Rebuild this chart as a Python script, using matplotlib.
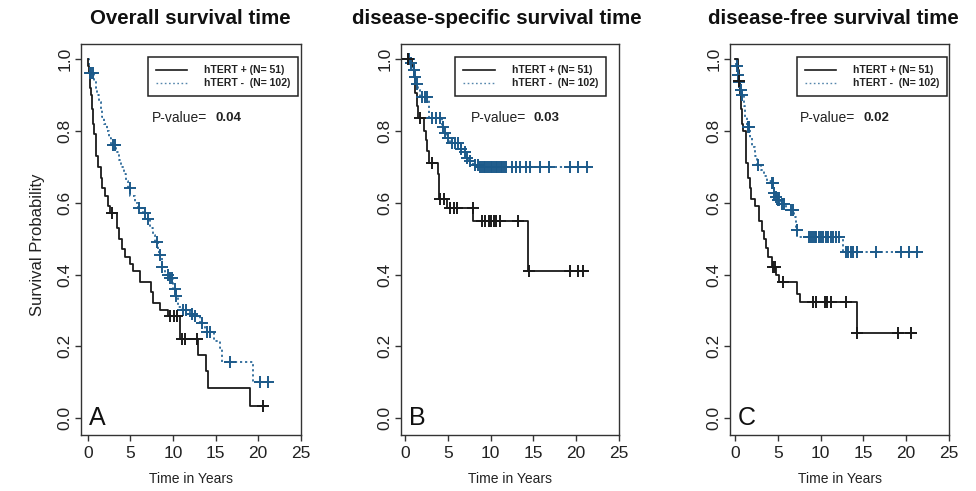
import numpy as np
import matplotlib.pyplot as plt
from matplotlib.lines import Line2D

plt.rcParams['font.family'] = ['Liberation Sans', 'DejaVu Sans']

# ---- data (time in years, survival after each step) ----
titles = ['Overall survival time', 'disease-specific survival time', 'disease-free survival time']
letters = ['A', 'B', 'C']
pvalues = ['0.04', '0.03', '0.02']
legend_labels = ['hTERT + (N= 51)', 'hTERT -  (N= 102)']

# A: overall survival
a_pos_t = [0.05, 0.12, 0.2, 0.28, 0.36, 0.44, 0.52, 0.6, 0.75, 0.9, 1.0, 1.2, 1.5, 1.7, 2.0, 2.3, 2.6,
           3.4, 3.6, 4.0, 4.4, 4.9, 5.3, 6.1, 7.4, 7.7, 8.5, 9.4, 10.8, 12.9, 13.9, 14.1, 19.1]
a_pos_s = [0.98, 0.96, 0.94, 0.92, 0.90, 0.88, 0.86, 0.82, 0.79, 0.76, 0.73, 0.70, 0.67, 0.64, 0.62, 0.59, 0.57,
           0.53, 0.50, 0.47, 0.45, 0.43, 0.41, 0.38, 0.35, 0.32, 0.30, 0.285, 0.22, 0.175, 0.13, 0.085, 0.035]
a_pos_cens = [2.8, 9.7, 10.1, 10.5, 11.1, 11.4, 12.8, 20.6]
a_pos_end = 20.8

a_neg_t = [0.1, 0.2, 0.7, 0.9, 1.1, 1.3, 1.5, 1.7, 1.9, 2.2, 2.5, 2.7, 3.3, 3.6, 3.9, 4.2, 4.5, 4.7, 5.0, 5.5,
           5.9, 6.5, 7.0, 7.3, 7.6, 7.9, 8.2, 8.4, 8.65, 9.1, 9.6, 10.0, 10.3, 10.6, 11.0, 12.0, 12.5, 13.2,
           13.8, 14.8, 15.5, 15.8, 19.4]
a_neg_s = [0.98, 0.96, 0.94, 0.92, 0.90, 0.88, 0.86, 0.84, 0.82, 0.80, 0.78, 0.76, 0.74, 0.72, 0.70, 0.68,
           0.66, 0.64, 0.62, 0.60, 0.585, 0.57, 0.555, 0.53, 0.51, 0.49, 0.47, 0.455, 0.42, 0.40, 0.39, 0.36,
           0.34, 0.31, 0.30, 0.29, 0.285, 0.265, 0.24, 0.215, 0.195, 0.155, 0.10]
a_neg_cens = [0.25, 0.4, 0.55, 2.9, 3.2, 4.9, 6.0, 6.7, 7.1, 8.1, 8.5, 8.7, 9.4, 9.7, 9.9, 10.2, 10.4,
              11.2, 11.5, 12.2, 12.6, 13.4, 14.0, 14.3, 16.7, 20.2, 21.2]
a_neg_end = 21.4

# B: disease-specific survival
b_pos_t = [0.8, 1.0, 1.2, 1.35, 1.5, 2.2, 2.4, 2.6, 2.8, 3.8, 3.95, 4.9, 8.0, 14.4]
b_pos_s = [0.98, 0.95, 0.905, 0.87, 0.835, 0.80, 0.775, 0.745, 0.71, 0.68, 0.61, 0.585, 0.55, 0.41]
b_pos_cens = [0.4, 1.75, 3.2, 4.1, 4.6, 5.3, 5.7, 6.1, 7.9, 9.0, 9.4, 9.8, 10.1, 10.4, 10.7, 11.1,
              13.2, 14.5, 19.3, 20.2, 20.8]
b_pos_end = 21.3

b_neg_t = [0.6, 0.9, 1.1, 1.3, 1.5, 1.8, 2.8, 4.3, 4.6, 4.9, 5.3, 6.5, 6.9, 7.1, 7.4, 7.9, 8.6]
b_neg_s = [0.99, 0.97, 0.95, 0.93, 0.915, 0.895, 0.835, 0.81, 0.795, 0.78, 0.765, 0.75, 0.74, 0.725,
           0.715, 0.705, 0.70]
b_neg_cens = [0.35, 0.5, 0.7, 1.0, 1.2, 1.4, 2.0, 2.3, 2.6, 3.2, 3.6, 4.1, 4.4, 4.7, 5.0, 5.5, 5.8, 6.2,
              6.6, 7.0, 7.2, 7.6, 8.2, 8.5, 8.8, 9.0, 9.2, 9.4, 9.6, 9.8, 10.0, 10.2, 10.4, 10.6, 10.8,
              11.0, 11.2, 11.4, 11.6, 11.8, 12.5, 13.0, 13.5, 14.1, 14.6, 15.8, 16.9, 19.3, 20.2, 21.3]
b_neg_end = 21.8

# C: disease-free survival
c_pos_t = [0.3, 0.5, 0.6, 0.7, 0.8, 0.9, 1.3, 1.5, 1.7, 1.9, 2.3, 2.8, 3.2, 3.4, 3.6, 3.9, 4.3, 4.8,
           5.2, 7.2, 7.6, 14.2]
c_pos_s = [0.97, 0.94, 0.90, 0.86, 0.82, 0.80, 0.71, 0.67, 0.64, 0.61, 0.59, 0.55, 0.52, 0.50, 0.475,
           0.45, 0.42, 0.40, 0.38, 0.345, 0.323, 0.237]
c_pos_cens = [0.5, 4.5, 4.7, 5.6, 9.1, 9.5, 10.5, 10.8, 11.2, 13.0, 14.2, 19.0, 20.6]
c_pos_end = 21.1

c_neg_t = [0.15, 0.3, 0.45, 0.6, 0.8, 1.0, 1.2, 1.4, 1.7, 2.0, 2.3, 2.6, 3.0, 3.4, 3.8, 4.2, 4.45, 4.6,
           4.8, 5.0, 5.4, 6.0, 6.9, 7.1, 7.3, 12.6]
c_neg_s = [0.98, 0.955, 0.935, 0.915, 0.90, 0.87, 0.84, 0.81, 0.78, 0.755, 0.73, 0.705, 0.69, 0.675,
           0.66, 0.655, 0.64, 0.627, 0.617, 0.607, 0.595, 0.58, 0.56, 0.525, 0.505, 0.463]
c_neg_cens = [0.2, 0.3, 0.5, 0.65, 0.85, 1.5, 1.6, 2.7, 4.3, 4.4, 4.6, 4.8, 5.0, 5.2, 5.5, 5.7, 6.6,
              6.8, 7.2, 8.7, 8.9, 9.1, 9.3, 9.5, 9.8, 10.0, 10.3, 10.6, 10.9, 11.2, 11.5, 11.8, 12.2,
              13.0, 13.2, 13.5, 13.8, 14.2, 16.5, 19.4, 20.3, 21.3]
c_neg_end = 21.3

panels = [
    ((a_pos_t, a_pos_s, a_pos_cens, a_pos_end), (a_neg_t, a_neg_s, a_neg_cens, a_neg_end)),
    ((b_pos_t, b_pos_s, b_pos_cens, b_pos_end), (b_neg_t, b_neg_s, b_neg_cens, b_neg_end)),
    ((c_pos_t, c_pos_s, c_pos_cens, c_pos_end), (c_neg_t, c_neg_s, c_neg_cens, c_neg_end)),
]

black = '#1a1a1a'
blue = '#2a6898'
blue_mark = '#1c5a8a'

# ---- layout ----
W, H = 976, 491
fig = plt.figure(figsize=(W / 100, H / 100), dpi=100)
lefts = [81, 401, 730]
widths = [220, 218, 219]
xlims = [(-0.82, 25.05), (-0.47, 25.03), (-0.58, 25.0)]
title_x = [190, 497, 833]
legend_right = [0.988, 0.94, 0.993]


def surv_at(times, survs, t):
    i = np.searchsorted(times, t, side='right')
    return 1.0 if i == 0 else survs[i - 1]


def draw_curve(ax, times, survs, cens, end, color, mcolor, ls):
    x = [0] + list(times) + [end]
    y = [1.0] + list(survs) + [survs[-1]]
    ax.step(x, y, where='post', color=color, lw=1.3, ls=ls, zorder=2)
    cy = [surv_at(times, survs, c) for c in cens]
    ax.plot(cens, cy, ls='none', marker='+', ms=8, mew=1.4, color=mcolor, zorder=3)


for k, (pos, neg) in enumerate(panels):
    ax = fig.add_axes([lefts[k] / W, 56 / H, widths[k] / W, 391 / H])
    draw_curve(ax, *neg, blue, blue_mark, (0, (1.2, 1.6)))
    draw_curve(ax, *pos, black, black, '-')

    ax.set_xlim(*xlims[k])
    ax.set_ylim(-0.047, 1.042)
    ax.set_xticks([0, 5, 10, 15, 20, 25])
    ax.set_yticks([0.0, 0.2, 0.4, 0.6, 0.8, 1.0])
    ax.set_yticklabels(['0.0', '0.2', '0.4', '0.6', '0.8', '1.0'], rotation=90, va='center')
    ax.tick_params(axis='both', direction='out', length=4, width=1, colors='#333333',
                   labelsize=12.5, labelcolor='#222222')
    ax.tick_params(axis='y', pad=2)
    ax.tick_params(axis='x', pad=4)
    for sp in ax.spines.values():
        sp.set_color('#333333')
        sp.set_linewidth(1.0)

    ax.set_xlabel('Time in Years', fontsize=10, color='#222222')
    ax.xaxis.set_label_coords(0.5, -0.095)
    if k == 0:
        ax.set_ylabel('Survival Probability', fontsize=12, color='#222222')
        ax.yaxis.set_label_coords(-0.165, 0.486)

    handles = [Line2D([], [], color=black, lw=1.2),
               Line2D([], [], color=blue, lw=1.0, ls=(0, (1.2, 1.8)), alpha=0.8)]
    leg = ax.legend(handles, legend_labels, loc='upper right',
                    bbox_to_anchor=(legend_right[k], 0.966),
                    fancybox=False, framealpha=1, edgecolor='#222222', borderpad=0.75,
                    handlelength=3.0, handletextpad=1.6, labelspacing=0.3, borderaxespad=0,
                    prop={'size': 7.6, 'weight': 'bold'})
    leg.get_frame().set_linewidth(1.1)
    for t in leg.get_texts():
        t.set_color('#222222')

    ax.text(0.32, 0.81, 'P-value=', transform=ax.transAxes, fontsize=10, color='#222222', va='center')
    ax.text(0.61, 0.81, pvalues[k], transform=ax.transAxes, fontsize=9.5, fontweight='bold',
            color='#222222', va='center')
    ax.text(0.035, 0.012, letters[k], transform=ax.transAxes, fontsize=18, color='#111111',
            va='bottom', ha='left')

    fig.text(title_x[k] / W, 1 - 19 / H, titles[k], fontsize=14.8, fontweight='bold',
             ha='center', va='center', color='#111111')

fig.savefig('out.png', dpi=100)
